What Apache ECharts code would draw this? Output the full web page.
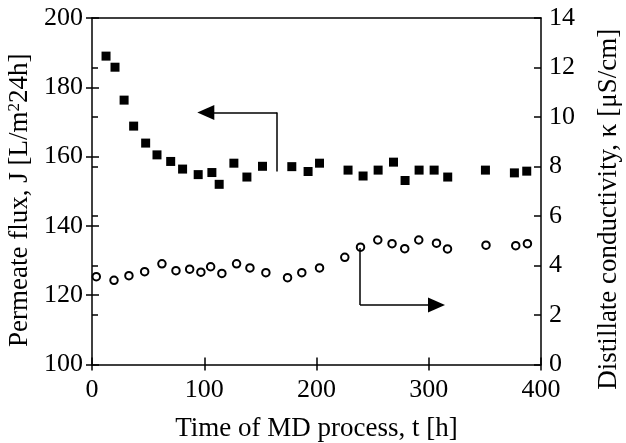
<!DOCTYPE html>
<html><head><meta charset="utf-8">
<script src="https://cdn.jsdelivr.net/npm/echarts@6/dist/echarts.min.js"></script>
<style>html,body{margin:0;padding:0;background:#fff}#c{width:626px;height:443px}</style>
</head><body><div id="c"></div>
<script>
const xTicks = [0, 100, 200, 300, 400];
const tJ = [12.5,20.5,28.6,37.1,47.8,57.9,70.1,80.7,94.6,106.8,113.3,126.4,138,151.9,178,192.5,202.7,228.1,241.5,254.9,268.6,278.9,291.4,304.8,316.9,350.5,376.3,387.3];
const fluxJ = [189,185.8,176.3,168.8,163.9,160.5,158.6,156.4,154.8,155.4,152.0,158.1,154.1,157.2,157.1,155.7,158.1,156.1,154.4,156.1,158.4,153.1,156.1,156.1,154.1,156.1,155.3,155.8];
const tK = [3.8,19.6,32.9,46.9,62.3,74.8,87,97,105.7,115.7,128.8,140.7,154.9,174.2,186.9,202.7,225.2,239.2,254.6,267.3,278.6,291.1,306.9,316.7,351,377.5,387.9];
const kappa = [3.55,3.40,3.59,3.75,4.07,3.79,3.85,3.73,3.95,3.68,4.07,3.90,3.71,3.51,3.71,3.90,4.33,4.74,5.03,4.88,4.68,5.03,4.90,4.67,4.82,4.80,4.88];
// annotation arrows (data coordinates)
const arrowJ = [[165, 155.7], [165, 172.7], [101.4, 172.7]];
const arrowK = [[238.8, 4.71], [238.8, 2.40], [306.9, 2.40]];

const FF = 'Liberation Serif';
const FS = 26;   // tick labels
const FT = 27;   // axis titles
const chart = echarts.init(document.getElementById('c'), null, {renderer: 'canvas'});
const g = {left: 92, right: 85, top: 18, bottom: 78.5, containLabel: false, outerBoundsMode: 'none'};
const lineStyle = {color: '#000', width: 1.5};
function baseX(extra) {
  return Object.assign({type: 'value', min: 0, max: 400, interval: 100,
    splitLine: {show: false}}, extra);
}
function yL(extra) {
  return Object.assign({type: 'value', min: 100, max: 200, interval: 20, position: 'left',
    splitLine: {show: false}}, extra);
}
function yR(extra) {
  return Object.assign({type: 'value', min: 0, max: 14, interval: 2, position: 'right',
    splitLine: {show: false}}, extra);
}
function segs(pts) {
  const out = [];
  for (let i = 0; i < pts.length - 1; i++) {
    out.push([{coord: pts[i], symbol: 'none'},
              {coord: pts[i + 1], symbol: i === pts.length - 2 ? 'triangle' : 'none'}]);
  }
  return out;
}
const option = {
  animation: false,
  grid: [Object.assign({}, g), Object.assign({}, g)],
  xAxis: [
    baseX({gridIndex: 0, position: 'bottom', axisLine: {show: true, lineStyle: lineStyle},
      axisTick: {show: true, inside: true, length: 7, lineStyle: lineStyle},
      axisLabel: {show: true, color: '#000', fontFamily: FF, fontSize: FS, margin: 13},
      name: 'Time of MD process, t [h]', nameLocation: 'middle', nameGap: 51,
      nameTextStyle: {color: '#000', fontFamily: FF, fontSize: FT}}),
    baseX({gridIndex: 1, position: 'bottom', axisLine: {show: false},
      axisTick: {show: true, inside: false, length: 6, lineStyle: lineStyle},
      axisLabel: {show: false}}),
    baseX({gridIndex: 1, position: 'top', axisLine: {show: true, lineStyle: lineStyle},
      axisTick: {show: false}, axisLabel: {show: false}})
  ],
  yAxis: [
    yL({gridIndex: 0, axisLine: {show: true, lineStyle: lineStyle},
      axisTick: {show: true, inside: true, length: 7, lineStyle: lineStyle},
      axisLabel: {color: '#000', fontFamily: FF, fontSize: FS, margin: 9},
      name: '{n|Permeate flux, J [L/m}{s|2}{n|24h]}', nameLocation: 'middle', nameGap: 41, nameRotate: 90,
      nameTextStyle: {color: '#000', fontFamily: FF, fontSize: FT, padding: [0, 18, 0, 0],
        rich: {n: {fontFamily: FF, fontSize: FT, color: '#000', lineHeight: 28},
               s: {fontFamily: FF, fontSize: 17, color: '#000', lineHeight: 17, verticalAlign: 'top'}}}}),
    yR({gridIndex: 0, axisLine: {show: true, lineStyle: lineStyle},
      axisTick: {show: true, inside: true, length: 7, lineStyle: lineStyle},
      axisLabel: {color: '#000', fontFamily: FF, fontSize: FS, margin: 8},
      name: 'Distillate conductivity, κ [μS/cm]', nameLocation: 'middle', nameGap: 54, nameRotate: 90,
      nameTextStyle: {color: '#000', fontFamily: FF, fontSize: FT, padding: [0, 36, 0, 0]}}),
    yL({gridIndex: 1, axisLine: {show: false},
      axisTick: {show: true, inside: false, length: 6, lineStyle: lineStyle},
      axisLabel: {show: false}}),
    yR({gridIndex: 1, axisLine: {show: false},
      axisTick: {show: true, inside: false, length: 6, lineStyle: lineStyle},
      axisLabel: {show: false}})
  ],
  series: [
    {type: 'scatter', xAxisIndex: 0, yAxisIndex: 0, symbol: 'rect', symbolSize: 9,
      itemStyle: {color: '#000', opacity: 1}, data: tJ.map((t, i) => [t, fluxJ[i]]),
      markLine: {silent: true, symbolSize: [15, 17], animation: false,
        lineStyle: {color: '#000', width: 1.5, type: 'solid'}, label: {show: false},
        itemStyle: {color: '#000'}, data: segs(arrowJ)}},
    {type: 'scatter', xAxisIndex: 0, yAxisIndex: 1, symbol: 'circle', symbolSize: 7.5,
      itemStyle: {color: '#fff', borderColor: '#000', borderWidth: 2, opacity: 1}, data: tK.map((t, i) => [t, kappa[i]]),
      markLine: {silent: true, symbolSize: [15, 17], animation: false,
        lineStyle: {color: '#000', width: 1.5, type: 'solid'}, label: {show: false},
        itemStyle: {color: '#000'}, data: segs(arrowK)}}
  ]
};
chart.setOption(option);
</script></body></html>
